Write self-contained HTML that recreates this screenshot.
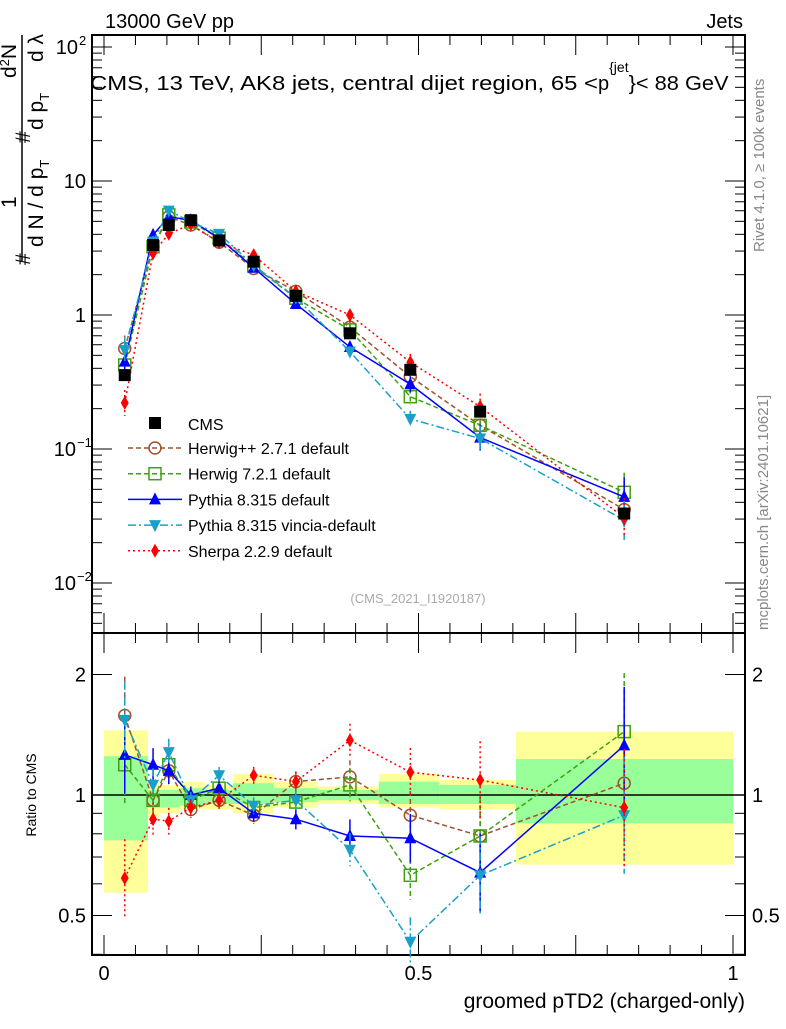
<!DOCTYPE html>
<html><head><meta charset="utf-8"><style>
body{margin:0;background:#fff;}
svg text{font-family:"Liberation Sans",sans-serif;}
</style></head><body>
<svg id="c" width="786" height="1024" xmlns="http://www.w3.org/2000/svg">
<text x="105" y="28" font-size="20">13000 GeV pp</text>
<text x="743" y="28" font-size="20" text-anchor="end">Jets</text>
<text x="90" y="90" font-size="20"><tspan textLength="508" lengthAdjust="spacingAndGlyphs">CMS, 13 TeV, AK8 jets, central dijet region, 65 &lt;</tspan><tspan>p</tspan><tspan font-size="14" dy="-18">{jet</tspan><tspan dy="18" textLength="100" lengthAdjust="spacingAndGlyphs">}&lt; 88 GeV</tspan></text>
<text x="418" y="603" font-size="13" fill="#aaa" text-anchor="middle">(CMS_2021_I1920187)</text>
<text transform="translate(764,252) rotate(-90)" font-size="15" fill="#888">Rivet 4.1.0, ≥ 100k events</text>
<text transform="translate(768,630) rotate(-90)" font-size="15" fill="#888">mcplots.cern.ch [arXiv:2401.10621]</text>
<g font-size="21">
<line x1="22" y1="35" x2="22" y2="262" stroke="#000" stroke-width="1.5"/>
<text transform="translate(16,208) rotate(-90)">1</text>
<text transform="translate(16,78) rotate(-90)">d<tspan font-size="13" dy="-7">2</tspan><tspan dy="7">N</tspan></text>
<text transform="translate(30,265) rotate(-90)">#</text>
<text transform="translate(43,247) rotate(-90)">d N / d p<tspan font-size="13" dy="6">T</tspan></text>
<text transform="translate(30,143) rotate(-90)">#</text>
<text transform="translate(43,130) rotate(-90)">d p<tspan font-size="13" dy="6">T</tspan></text>
<text transform="translate(43,62) rotate(-90)">d λ</text>
</g>
<text transform="translate(36,795) rotate(-90)" font-size="14" text-anchor="middle">Ratio to CMS</text>
<text x="745" y="1008" font-size="21" text-anchor="end">groomed pTD2 (charged-only)</text>
<g id="g"></g>
</svg>
<script>
const xs=[0.033,0.078,0.103,0.138,0.183,0.238,0.305,0.391,0.487,0.598,0.827];
const cms=[0.356,3.33,4.7,5.1,3.6,2.5,1.39,0.73,0.39,0.19,0.033];
const rHpp=[1.58,0.97,1.15,0.92,0.97,0.89,1.08,1.11,0.89,0.79,1.07];
const rH7=[1.19,0.97,1.19,0.97,1.04,0.93,0.96,1.06,0.63,0.79,1.44];
const rPy=[1.26,1.19,1.15,1.0,1.04,0.9,0.87,0.79,0.78,0.64,1.33];
const rVi=[1.54,1.06,1.28,0.97,1.12,0.94,0.97,0.73,0.43,0.63,0.89];
const rSh=[0.62,0.87,0.86,0.93,0.97,1.12,1.08,1.37,1.14,1.09,0.93];
const relErr=[0.25,0.1,0.08,0.05,0.05,0.05,0.06,0.1,0.15,0.25,0.4];
const binEdges=[0,0.07,0.09,0.12,0.16,0.205,0.27,0.34,0.437,0.533,0.655,1.0];
const yelLo=[0.57,0.88,0.9,0.92,0.92,0.9,0.93,0.95,0.93,0.92,0.67];
const yelHi=[1.45,1.06,1.06,1.08,1.06,1.13,1.08,1.05,1.13,1.09,1.44];
const grnLo=[0.77,0.93,0.93,0.94,0.95,0.95,0.96,0.97,0.95,0.95,0.85];
const grnHi=[1.25,1.03,1.03,1.04,1.03,1.07,1.04,1.03,1.08,1.06,1.23];
const xTicks=[0,0.5,1];const xTickLabels=["0","0.5","1"];
const X=v=>104+629*v;
const Y=v=>315-134*Math.log10(v);
const R=v=>795-120.5*Math.log2(v);
const L=92,Rt=745,T=35,M=633,B=955;
const g=document.getElementById('g');const NS='http://www.w3.org/2000/svg';
function el(t,a,name){const e=document.createElementNS(NS,t);for(const k in a)e.setAttribute(k,a[k]);


g.appendChild(e);return e;}
for(let i=0;i<xs.length;i++){
 el('rect',{x:X(binEdges[i]),y:R(yelHi[i]),width:X(binEdges[i+1])-X(binEdges[i]),height:R(yelLo[i])-R(yelHi[i]),fill:'#ffff99'},'band-yellow');
 el('rect',{x:X(binEdges[i]),y:R(grnHi[i]),width:X(binEdges[i+1])-X(binEdges[i]),height:R(grnLo[i])-R(grnHi[i]),fill:'#99ff99'},'band-green');
}
el('line',{x1:L,x2:Rt,y1:R(1),y2:R(1),stroke:'#000','stroke-width':1.5},'ratio-unity-line');
el('rect',{x:L,y:T,width:Rt-L,height:M-T,fill:'none',stroke:'#000','stroke-width':2},'main-frame');
el('rect',{x:L,y:M,width:Rt-L,height:B-M,fill:'none',stroke:'#000','stroke-width':2},'ratio-frame');
for(let d=-3;d<=2;d++){for(let m=1;m<10;m++){const v=m*Math.pow(10,d);const y=Y(v);if(y<T||y>M)continue;const len=m==1?20:10;
 el('line',{x1:L,x2:L+len,y1:y,y2:y,stroke:'#000'},'y-tick');el('line',{x1:Rt,x2:Rt-len,y1:y,y2:y,stroke:'#000'},'y-tick');}}
const ylab=[[100,'10','2'],[10,'10',''],[1,'1',''],[0.1,'10','−1'],[0.01,'10','−2']];
ylab.forEach(a=>{const t=el('text',{x:a[2]?(a[2]=='2'?78:76):86,y:Y(a[0])+7,'font-size':20,'text-anchor':'end'},'y-tick-label');t.textContent=a[1];
 if(a[2]){const s=el('text',{x:a[2]=='2'?79:77,y:Y(a[0])-2,'font-size':13},'y-tick-exponent');s.textContent=a[2];}});
[0.4,0.5,0.6,0.7,0.8,0.9,1,2].forEach(v=>{const y=R(v);if(y<M||y>B)return;const len=(v==0.5||v==1||v==2)?20:10;
 el('line',{x1:L,x2:L+len,y1:y,y2:y,stroke:'#000'},'ratio-tick');el('line',{x1:Rt,x2:Rt-len,y1:y,y2:y,stroke:'#000'},'ratio-tick');});
[[2,'2'],[1,'1'],[0.5,'0.5']].forEach(a=>{let t=el('text',{x:86,y:R(a[0])+7,'font-size':20,'text-anchor':'end'},'ratio-tick-label');t.textContent=a[1];
 t=el('text',{x:752,y:R(a[0])+7,'font-size':20},'ratio-tick-label');t.textContent=a[1];});
for(let i=0;i<=20;i++){const v=i*0.05;const big=i%5==0;const len=big?20:10;
 [[M,-1],[B,-1],[T,1],[M,1]].forEach(p=>el('line',{x1:X(v),x2:X(v),y1:p[0],y2:p[0]+p[1]*len,stroke:'#000'},'x-tick'));}
xTicks.forEach((v,i)=>{const t=el('text',{x:X(v),y:980,'font-size':20,'text-anchor':'middle'},'x-tick-label');t.textContent=xTickLabels[i];});
const series=[
 {n:'herwigpp',r:rHpp,c:'#a0522d',d:'5,3',m:'circle',lab:'Herwig++ 2.7.1 default'},
 {n:'herwig7',r:rH7,c:'#40a010',d:'5,3',m:'square',lab:'Herwig 7.2.1 default'},
 {n:'pythia',r:rPy,c:'#0000ff',d:'',m:'tri',lab:'Pythia 8.315 default'},
 {n:'vincia',r:rVi,c:'#1aa0c8',d:'8,3,2,3',m:'itri',lab:'Pythia 8.315 vincia-default'},
 {n:'sherpa',r:rSh,c:'#ff0000',d:'2,3',m:'diamond',lab:'Sherpa 2.2.9 default'}];
function marker(m,x,y,c,name){
 if(m=='circle')return el('circle',{cx:x,cy:y,r:6,fill:'none',stroke:c,'stroke-width':1.5},name);
 if(m=='square')return el('rect',{x:x-6,y:y-6,width:12,height:12,fill:'none',stroke:c,'stroke-width':1.5},name);
 if(m=='tri')return el('polygon',{points:`${x},${y-7} ${x-6},${y+5} ${x+6},${y+5}`,fill:c},name);
 if(m=='itri')return el('polygon',{points:`${x},${y+7} ${x-6},${y-5} ${x+6},${y-5}`,fill:c},name);
 if(m=='diamond')return el('polygon',{points:`${x},${y-7} ${x-4},${y} ${x},${y+7} ${x+4},${y}`,fill:c},name);
 if(m=='sq')return el('rect',{x:x-6,y:y-6,width:12,height:12,fill:c},name);
}
series.forEach(s=>{
 const pm=xs.map((x,i)=>X(x)+','+Y(cms[i]*s.r[i])).join(' ');
 const pr=xs.map((x,i)=>X(x)+','+R(s.r[i])).join(' ');
 el('polyline',{points:pm,fill:'none',stroke:s.c,'stroke-width':1.5,'stroke-dasharray':s.d},'line-'+s.n);
 el('polyline',{points:pr,fill:'none',stroke:s.c,'stroke-width':1.5,'stroke-dasharray':s.d},'ratio-line-'+s.n);
 xs.forEach((x,i)=>{const v=cms[i]*s.r[i],e=relErr[i];
  el('line',{x1:X(x),x2:X(x),y1:Y(v*(1+e)),y2:Y(v/(1+e)),stroke:s.c,'stroke-width':1.5,'stroke-dasharray':s.d},'errorbar-'+s.n);
  el('line',{x1:X(x),x2:X(x),y1:R(s.r[i]*(1+e)),y2:R(s.r[i]/(1+e)),stroke:s.c,'stroke-width':1.5,'stroke-dasharray':s.d},'ratio-errorbar-'+s.n);
  marker(s.m,X(x),Y(v),s.c,'point-'+s.n);marker(s.m,X(x),R(s.r[i]),s.c,'ratio-point-'+s.n);});
});
xs.forEach((x,i)=>marker('sq',X(x),Y(cms[i]),'#000','point-cms'));
marker('sq',155,423,'#000','legend-marker-cms');
let t=el('text',{x:188,y:430,'font-size':16},'legend-entry-cms');t.textContent='CMS';
series.forEach((s,i)=>{const y=448+i*25.7;
 el('line',{x1:128,x2:182,y1:y,y2:y,stroke:s.c,'stroke-width':1.5,'stroke-dasharray':s.d},'legend-line-'+s.n);
 marker(s.m,155,y,s.c,'legend-marker-'+s.n);
 const tt=el('text',{x:188,y:y+6,'font-size':16},'legend-entry-'+s.n);tt.textContent=s.lab;});
</script>
</body></html>
